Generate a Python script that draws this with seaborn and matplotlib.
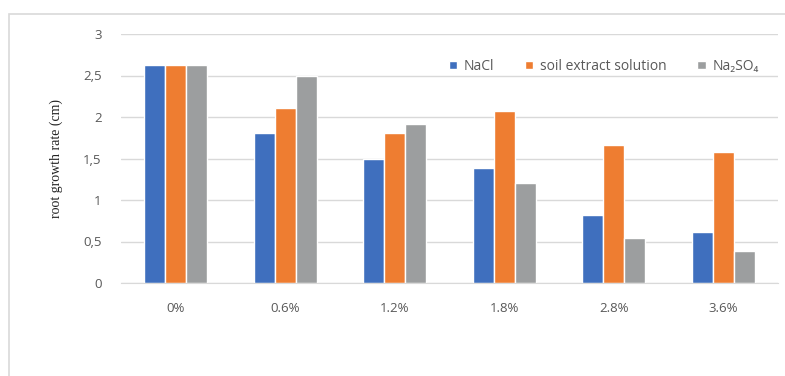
import matplotlib
matplotlib.use("Agg")
import matplotlib.pyplot as plt
import seaborn as sns
import pandas as pd
from matplotlib.patches import Rectangle
from matplotlib.ticker import FuncFormatter

categories = ["0%", "0.6%", "1.2%", "1.8%", "2.8%", "3.6%"]
series_names = ["NaCl", "soil extract solution", "Na₂SO₄"]
nacl = [2.63, 1.81, 1.49, 1.38, 0.82, 0.62]
soil = [2.63, 2.11, 1.81, 2.07, 1.66, 1.58]
na2so4 = [2.63, 2.49, 1.91, 1.21, 0.54, 0.39]
colors = ["#3F6FBE", "#EE7D31", "#9C9E9F"]

rows = []
for name, vals in zip(series_names, [nacl, soil, na2so4]):
    for c, v in zip(categories, vals):
        rows.append({"conc": c, "series": name, "value": v})
df = pd.DataFrame(rows)

sns.set_style("white")
plt.rcParams["font.family"] = ["Open Sans", "DejaVu Sans"]

fig = plt.figure(figsize=(7.85, 3.76), dpi=100)
ax = fig.add_axes([121/785, 1-283/376, (778-121)/785, (283-34)/376])

sns.barplot(data=df, x="conc", y="value", hue="series", order=categories,
            hue_order=series_names, palette=colors, width=0.575, gap=0,
            saturation=1, ax=ax, errorbar=None)

ax.set_ylim(0, 3)
ax.set_yticks([0, 0.5, 1, 1.5, 2, 2.5, 3])
ax.yaxis.set_major_formatter(FuncFormatter(lambda v, p: ("%g" % v).replace(".", ",")))
ax.grid(axis="y", color="#d9d9d9", linewidth=1)
ax.set_axisbelow(True)
for s in ["top", "right", "left"]:
    ax.spines[s].set_visible(False)
ax.spines["bottom"].set_color("#d9d9d9")
ax.tick_params(axis="both", length=0, labelsize=9.5, colors="#595959")
ax.tick_params(axis="y", pad=14)
ax.tick_params(axis="x", pad=14)
ax.set_xlabel("")
ax.set_ylabel("root growth rate (cm)", family=["Liberation Serif", "DejaVu Serif"],
              fontsize=10, color="#222222", labelpad=14)

handles, labels = ax.get_legend_handles_labels()
leg = ax.legend(handles, labels, ncol=3, loc="upper right", bbox_to_anchor=(0.99, 0.95),
                frameon=False, fontsize=10, handlelength=0.6, handleheight=0.6,
                columnspacing=2.2, handletextpad=0.5, labelcolor="#595959")

fig.patches.append(Rectangle((9/785, -0.1), 1.2, 1-14/376+0.1, transform=fig.transFigure,
                             fill=False, edgecolor="#d9d9d9", linewidth=1.2, zorder=-1))

fig.savefig("out.png", dpi=100)
